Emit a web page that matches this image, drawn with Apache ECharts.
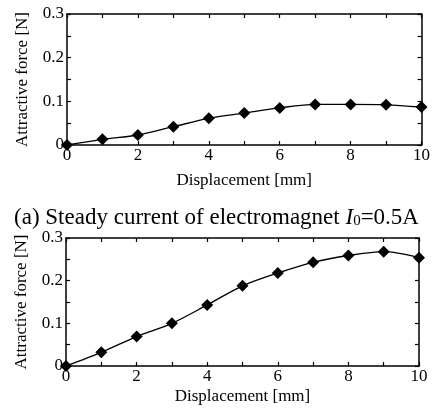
<!DOCTYPE html>
<html>
<head>
<meta charset="utf-8">
<script src="https://cdn.jsdelivr.net/npm/echarts@6/dist/echarts.min.js"></script>
<style>
  html, body { margin: 0; padding: 0; background: #fff; }
  #chart { width: 433px; height: 411px; }
</style>
</head>
<body>
<div id="chart"></div>
<script>
const displacement = [0, 1, 2, 3, 4, 5, 6, 7, 8, 9, 10];
const forceSteady = [0, 0.013, 0.023, 0.042, 0.061, 0.073, 0.085, 0.093, 0.093, 0.092, 0.087];
const forceLower = [0, 0.032, 0.069, 0.1, 0.143, 0.188, 0.218, 0.243, 0.259, 0.268, 0.254];
const xTickLabels = ['0', '2', '4', '6', '8', '10'];
const yTickLabels = ['0', '0.1', '0.2', '0.3'];

const FONT = '"Liberation Serif", "Times New Roman", serif';
const ink = '#000';

const xLabel = v => xTickLabels.includes(String(Math.round(v))) && Math.abs(v - Math.round(v)) < 1e-6 ? String(Math.round(v)) : '';
const yLabel = v => {
  const s = String(+(+v).toFixed(2));
  return yTickLabels.includes(s) ? s : '';
};

function xAxisFor(gridIndex, top, gap) {
  const base = {
    type: 'value', gridIndex: gridIndex, min: 0, max: 10, interval: 1,
    axisLine: { onZero: false, lineStyle: { color: ink, width: 1.5 } },
    axisTick: { inside: true, length: 4, lineStyle: { color: ink, width: 1.2 } },
    splitLine: { show: false }
  };
  if (top) {
    return Object.assign({}, base, { position: 'top', axisLabel: { show: false } });
  }
  return Object.assign({}, base, {
    position: 'bottom',
    name: 'Displacement [mm]', nameLocation: 'middle', nameGap: gap,
    nameTextStyle: { fontFamily: FONT, fontSize: 17, color: ink },
    axisLabel: { formatter: xLabel, margin: 2, fontFamily: FONT, fontSize: 17, color: ink }
  });
}

function yAxisFor(gridIndex, right) {
  const base = {
    type: 'value', gridIndex: gridIndex, min: 0, max: 0.3, interval: 0.05,
    axisLine: { onZero: false, lineStyle: { color: ink, width: 1.5 } },
    axisTick: { inside: true, length: 4, lineStyle: { color: ink, width: 1.2 } },
    splitLine: { show: false }
  };
  if (right) {
    return Object.assign({}, base, { position: 'right', axisLabel: { show: false } });
  }
  return Object.assign({}, base, {
    position: 'left',
    name: 'Attractive force [N]', nameLocation: 'middle', nameGap: 36,
    nameTextStyle: { fontFamily: FONT, fontSize: 17, color: ink },
    axisLabel: { formatter: yLabel, margin: 3, fontFamily: FONT, fontSize: 17, color: ink }
  });
}

function seriesFor(idx, values) {
  return {
    type: 'line', xAxisIndex: idx * 2, yAxisIndex: idx * 2,
    data: displacement.map((d, i) => [d, values[i]]),
    smooth: 0.3, clip: false,
    symbol: 'diamond', symbolSize: [12, 12],
    itemStyle: { color: ink },
    lineStyle: { color: ink, width: 1.4 }
  };
}

const chart = echarts.init(document.getElementById('chart'), null, { renderer: 'canvas' });
chart.setOption({
  backgroundColor: '#fff',
  animation: false,
  title: {
    text: '(a) Steady current of electromagnet {i|I}{s|0}=0.5A',
    left: 'center', top: 201,
    textStyle: {
      fontFamily: FONT, fontSize: 23, fontWeight: 'normal', color: ink,
      rich: {
        i: { fontFamily: FONT, fontSize: 23, fontStyle: 'italic', color: ink },
        s: { fontFamily: FONT, fontSize: 15, color: ink, verticalAlign: 'bottom', padding: [8, 0, 0, 0] }
      }
    }
  },
  grid: [
    { left: 67, top: 14, width: 355, height: 131 },
    { left: 66, top: 238, width: 353, height: 128 }
  ],
  xAxis: [xAxisFor(0, false, 27), xAxisFor(0, true), xAxisFor(1, false, 22), xAxisFor(1, true)],
  yAxis: [yAxisFor(0, false), yAxisFor(0, true), yAxisFor(1, false), yAxisFor(1, true)],
  series: [seriesFor(0, forceSteady), seriesFor(1, forceLower)]
});
</script>
</body>
</html>
